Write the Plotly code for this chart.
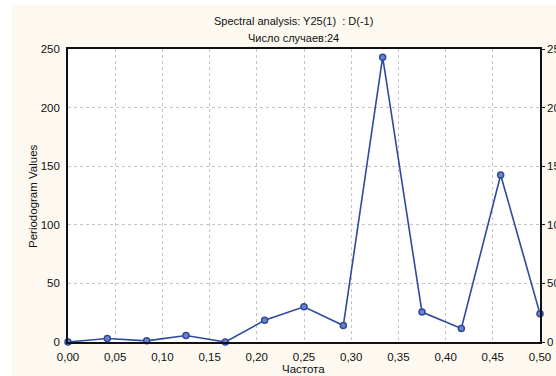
import plotly.graph_objects as go

# Data
freq = [0/24, 1/24, 2/24, 3/24, 4/24, 5/24, 6/24, 7/24, 8/24, 9/24, 10/24, 11/24, 12/24]
periodogram = [0, 3, 1, 5.5, 0, 18.5, 30, 14, 243, 25.5, 11.5, 142.5, 24]
x_ticks = [0.0, 0.05, 0.10, 0.15, 0.20, 0.25, 0.30, 0.35, 0.40, 0.45, 0.50]
y_ticks = [0, 50, 100, 150, 200, 250]
title1 = "Spectral analysis: Y25(1)  : D(-1)"
title2 = "Число случаев:24"
x_title = "Частота"
y_title = "Periodogram Values"

W, H = 556, 376
L, R, T, B = 68, 540, 49, 342  # plot area in pixels

def px(x):
    return (x - L) / (R - L)

def py(y):
    return (B - y) / (B - T)

cream = "#FDF9F0"
blue = "#2E4A9E"
font = "Liberation Sans, Arial, sans-serif"

fig = go.Figure()
fig.add_trace(go.Scatter(
    x=freq, y=periodogram, mode="lines+markers",
    line=dict(color=blue, width=1.6),
    marker=dict(size=6, color="#6F84C8", line=dict(color=blue, width=1.5)),
    showlegend=False, cliponaxis=False,
))
# invisible trace to anchor right axis
fig.add_trace(go.Scatter(x=[freq[0]], y=[periodogram[0]], yaxis="y2",
                         mode="markers", marker=dict(opacity=0),
                         showlegend=False, hoverinfo="skip"))

axis_font = dict(family=font, size=11.5, color="#111")
grid = dict(showgrid=True, gridcolor="#C4C4C4", griddash="dot", gridwidth=1)

fig.update_layout(
    width=W, height=H,
    margin=dict(l=L, r=W - R, t=T, b=H - B, pad=0, autoexpand=False),
    paper_bgcolor=cream, plot_bgcolor="white",
    separators=", ",
    font=dict(family=font, size=11, color="#111"),
    xaxis=dict(range=[0, 0.5], tickvals=x_ticks, tickformat=".2f",
               showline=True, linecolor="#111", linewidth=1.6, mirror=True,
               ticks="", tickfont=axis_font, zeroline=False, automargin=False,
               ticklabelstandoff=3,
               **grid),
    yaxis=dict(range=[0, 250], tickvals=y_ticks,
               showline=True, linecolor="#111", linewidth=1.6,
               ticks="", tickfont=axis_font, zeroline=False, automargin=False,
               ticklabelstandoff=4,
               **grid),
    yaxis2=dict(range=[0, 250], tickvals=y_ticks, overlaying="y", side="right",
                showline=True, linecolor="#111", linewidth=1.6,
                ticks="outside", ticklen=3, tickcolor="#111", automargin=False,
                tickfont=axis_font, showgrid=False, zeroline=False),
    shapes=[
        dict(type="rect", xref="paper", yref="paper", layer="above",
             x0=px(0), x1=px(W), y0=py(0), y1=py(5), fillcolor="white", line=dict(width=0)),
        dict(type="rect", xref="paper", yref="paper", layer="above",
             x0=px(0), x1=px(12), y0=py(0), y1=py(H), fillcolor="white", line=dict(width=0)),
    ],
    annotations=[
        dict(text=title1, xref="paper", yref="paper", x=px(293), y=py(21),
             showarrow=False, xanchor="center", yanchor="middle",
             font=dict(family=font, size=11, color="#111")),
        dict(text=title2, xref="paper", yref="paper", x=px(293), y=py(38),
             showarrow=False, xanchor="center", yanchor="middle",
             font=dict(family=font, size=11, color="#111")),
        dict(text=x_title, xref="paper", yref="paper", x=px(303), y=py(369),
             showarrow=False, xanchor="center", yanchor="middle",
             font=dict(family=font, size=11.5, color="#111")),
        dict(text=y_title, xref="paper", yref="paper", x=px(33), y=py(196),
             showarrow=False, xanchor="center", yanchor="middle", textangle=-90,
             font=dict(family=font, size=11.5, color="#111")),
    ],
)

fig.write_html("out.html")
